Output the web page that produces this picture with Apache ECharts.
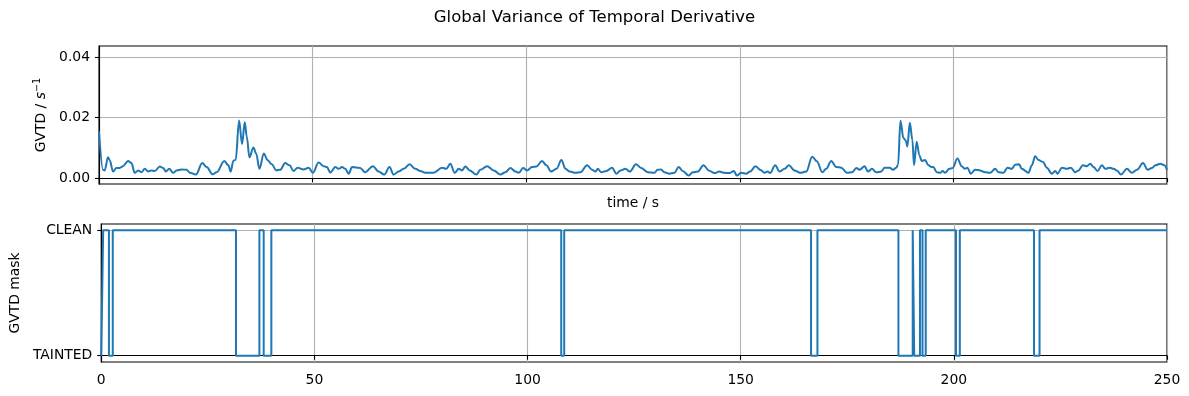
<!DOCTYPE html>
<html>
<head>
<meta charset="utf-8">
<script src="https://cdn.jsdelivr.net/npm/echarts@6/dist/echarts.min.js"></script>
<style>
html,body{margin:0;padding:0;background:#fff;}
#chart{width:1189px;height:396px;}
</style>
</head>
<body>
<div id="chart"></div>
<script>
// ---- data ----
const gvtdTime = [0,0.94,1.33,2.11,2.5,3.29,4.07,4.85,5.63,6.81,7.59,8.37,9.15,9.94,10.72,11.5,12.28,13.07,14.24,15.02,15.65,16.43,17.37,18.15,19.33,20.5,21.28,22.69,24.18,25.2,26.6,27.54,29.34,30.28,30.83,31.46,32.0,32.79,33.49,34.12,34.59,35.21,36.15,36.78,37.56,38.58,39.44,40.45,41.47,42.41,43.58,44.6,45.54,46.48,47.89,49.06,50.08,51.4,52.58,53.36,54.15,55.32,56.1,56.89,57.67,58.45,59.23,60.41,61.15,62.3,64.12,65.45,66.77,68.0,68.97,70.13,71.3,72.71,74.04,75.2,76.4,78.3,80.3,81.3,82.24,83.26,84.2,84.97,85.75,86.77,88.33,89.27,90.83,92.4,93.96,95.13,96.3,97.47,98.25,99.27,100.2,101.37,102.39,103.7,104.73,105.8,107.08,108.25,109.19,110.2,111.53,112.7,114.26,115.43,116.2,116.76,117.54,118.8,120.1,121.1,122.07,123.24,124.26,125.7,126.9,128.44,130.0,130.78,131.56,132.34,133.5,134.7,135.7,136.64,138.05,139.0,140.16,141.5,142.73,144.06,145.23,146.4,147.58,148.6,149.3,150.3,151.48,152.42,153.67,154.77,155.78,156.56,157.1,158.28,159.3,160.47,161.48,162.8,164.14,165.55,166.95,168.05,169.3,170.23,171.4,172.58,173.75,175.08,176.33,177.27,178.05,179.22,180.0,180.94,181.95,183.13,183.9,185.08,185.86,186.64,187.05,187.6,188.3,188.85,189.22,189.8,190.4,190.78,191.4,192.03,192.58,193.36,194.14,194.92,195.3,196.1,196.88,197.5,198.05,199.06,199.84,200.94,201.95,202.73,203.28,204.06,205.08,206.25,207.42,208.6,209.77,210.55,211.72,212.66,213.67,214.45,215.4,216.0,217.58,218.36,219.14,219.92,220.94,221.88,223.05,223.83,224.38,225.4,226.56,227.5,228.52,229.3,230.3,231.25,232.03,232.8,233.75,234.77,235.55,236.56,237.5,238.28,239.22,240.63,241.8,242.97,244.38,245.47,246.48,247.27,248.44,249.38,250];
const gvtdValue = [0.0155,0.0028,0.0026,0.0069,0.006,0.0022,0.0034,0.0034,0.0040,0.0057,0.005,0.0018,0.0026,0.002,0.0031,0.0022,0.0026,0.0024,0.0039,0.0034,0.0022,0.0031,0.0018,0.0026,0.0029,0.0028,0.0018,0.0012,0.005,0.0037,0.0013,0.002,0.0057,0.0043,0.0022,0.0058,0.0061,0.0191,0.0113,0.0185,0.0138,0.0069,0.0102,0.0082,0.0031,0.0082,0.006,0.0046,0.0026,0.0028,0.005,0.0043,0.0024,0.0035,0.0029,0.0035,0.0018,0.0052,0.004,0.0037,0.0019,0.0037,0.0031,0.0037,0.0031,0.0015,0.0037,0.0035,0.0034,0.002,0.004,0.0022,0.0012,0.0037,0.0012,0.0022,0.0031,0.0046,0.0031,0.0024,0.0018,0.0018,0.0035,0.0031,0.0048,0.0018,0.0031,0.0026,0.0039,0.0026,0.0012,0.0028,0.004,0.0026,0.0012,0.002,0.0034,0.0022,0.0018,0.0034,0.0026,0.0037,0.0039,0.0057,0.0043,0.0022,0.0031,0.006,0.0031,0.0022,0.0018,0.002,0.0043,0.0028,0.0022,0.0031,0.002,0.0024,0.0035,0.0015,0.0026,0.0031,0.0022,0.0046,0.0034,0.002,0.0018,0.0028,0.0029,0.002,0.0015,0.0018,0.0037,0.0024,0.0009,0.002,0.0022,0.0043,0.0026,0.0017,0.0022,0.0018,0.0017,0.0024,0.0009,0.0018,0.0015,0.0022,0.004,0.0028,0.0018,0.0022,0.0017,0.0043,0.0022,0.0031,0.0043,0.0026,0.0018,0.0022,0.0071,0.0056,0.002,0.0031,0.0057,0.0037,0.0035,0.0018,0.002,0.0034,0.0028,0.004,0.0022,0.0031,0.002,0.0022,0.0035,0.0035,0.0028,0.0035,0.0045,0.019,0.0133,0.0125,0.0105,0.0183,0.0127,0.0043,0.0121,0.0076,0.0057,0.006,0.0043,0.0037,0.0037,0.002,0.0018,0.0024,0.0018,0.0031,0.0034,0.0065,0.004,0.0031,0.0035,0.0015,0.0028,0.0026,0.002,0.0018,0.0031,0.002,0.0018,0.0035,0.0031,0.0045,0.0046,0.0031,0.0018,0.0043,0.0073,0.006,0.0054,0.0035,0.0015,0.0024,0.0015,0.0035,0.0031,0.0035,0.002,0.0026,0.0043,0.004,0.0048,0.0037,0.0024,0.0043,0.0031,0.0035,0.0031,0.0026,0.0012,0.0031,0.0018,0.0028,0.005,0.0028,0.0034,0.0043,0.0048,0.0043,0.0027];

// mask: each state holds from its time until the next time (1 = CLEAN, 0 = TAINTED)
const maskTime  = [0,0.45,1.8,2.7,31.6,37.1,38.1,39.9,107.9,108.6,166.5,168.0,187.0,190.35,190.7,192.05,192.65,193.4,200.5,201.4,218.8,220.1,250];
const maskState = [0,1,0,1,0,1,0,1,0,1,0,1,0,1,0,1,0,1,0,1,0,1,1];

const maskLabels = {0: 'TAINTED', 1: 'CLEAN'};
const xTicks = [0, 50, 100, 150, 200, 250];
const gvtdTicks = [0, 0.02, 0.04];
const titleText = 'Global Variance of Temporal Derivative';

// ---- chart ----
const FONT = 'DejaVu Sans';
const BLUE = '#1f77b4';
const GRIDC = '#b0b0b0';
const chart = echarts.init(document.getElementById('chart'), null, {renderer: 'canvas'});

const gvtdData = gvtdTime.map((t, i) => [t, gvtdValue[i]]);
const maskData = maskTime.map((t, i) => [t, maskState[i]]);

const axisLineStyle = {show: true, lineStyle: {color: '#000', width: 1.1}};
const tickStyle = {show: true, length: 4, lineStyle: {color: '#000', width: 1.1}};
const splitStyle = {show: true, lineStyle: {color: GRIDC, width: 1.1}};
const labelStyle = {color: '#000', fontFamily: FONT, fontSize: 13.9};

chart.setOption({
  animation: false,
  backgroundColor: '#fff',
  title: {
    text: titleText, left: 'center', top: 4,
    textStyle: {fontFamily: FONT, fontSize: 16.5, fontWeight: 'normal', color: '#000'}
  },
  grid: [
    {left: 99, right: 22, top: 46, height: 138, show: true, borderColor: '#000', borderWidth: 1.1, backgroundColor: 'transparent'},
    {left: 99, right: 22, top: 224, height: 138, show: true, borderColor: '#000', borderWidth: 1.1, backgroundColor: 'transparent'}
  ],
  xAxis: [
    {
      gridIndex: 0, type: 'value', min: 0, max: 250, interval: 50,
      axisLine: axisLineStyle, axisTick: tickStyle, splitLine: splitStyle,
      axisLabel: {show: false},
      name: 'time / s', nameLocation: 'middle', nameGap: 12,
      nameTextStyle: {color: '#000', fontFamily: FONT, fontSize: 13.9}
    },
    {
      gridIndex: 1, type: 'value', min: 0, max: 250, interval: 50,
      axisLine: axisLineStyle, axisTick: tickStyle, splitLine: splitStyle,
      axisLabel: Object.assign({margin: 11, customValues: xTicks}, labelStyle)
    }
  ],
  yAxis: [
    {
      gridIndex: 0, type: 'value', min: -0.0019, max: 0.0437,
      axisLine: axisLineStyle,
      axisTick: Object.assign({customValues: gvtdTicks}, tickStyle),
      splitLine: splitStyle,
      axisLabel: Object.assign({margin: 9, customValues: gvtdTicks, formatter: v => v.toFixed(2)}, labelStyle),
      name: '{a|GVTD / }{i|s}{sup|−1}', nameLocation: 'middle', nameGap: 49,
      nameTextStyle: {
        color: '#000', fontFamily: FONT, fontSize: 13.9,
        rich: {
          a: {fontFamily: FONT, fontSize: 13.9, color: '#000'},
          i: {fontFamily: FONT, fontSize: 13.9, fontStyle: 'italic', color: '#000'},
          sup: {fontFamily: FONT, fontSize: 9.7, color: '#000', padding: [0, 0, 7, 0]}
        }
      }
    },
    {
      gridIndex: 1, type: 'value', min: -0.05, max: 1.05,
      axisLine: axisLineStyle,
      axisTick: Object.assign({customValues: [0, 1]}, tickStyle),
      splitLine: splitStyle,
      axisLabel: Object.assign({margin: 9, customValues: [0, 1], formatter: v => maskLabels[Math.round(v)]}, labelStyle),
      name: 'GVTD mask', nameLocation: 'middle', nameGap: 76,
      nameTextStyle: {color: '#000', fontFamily: FONT, fontSize: 13.9}
    }
  ],
  series: [
    {
      type: 'line', xAxisIndex: 0, yAxisIndex: 0, data: gvtdData,
      showSymbol: false, smooth: 0.35, smoothMonotone: 'x',
      lineStyle: {color: BLUE, width: 2}, itemStyle: {color: BLUE}
    },
    {
      type: 'line', xAxisIndex: 1, yAxisIndex: 1, data: maskData,
      showSymbol: false, step: 'end',
      lineStyle: {color: BLUE, width: 2}, itemStyle: {color: BLUE}
    }
  ]
});
</script>
</body>
</html>
